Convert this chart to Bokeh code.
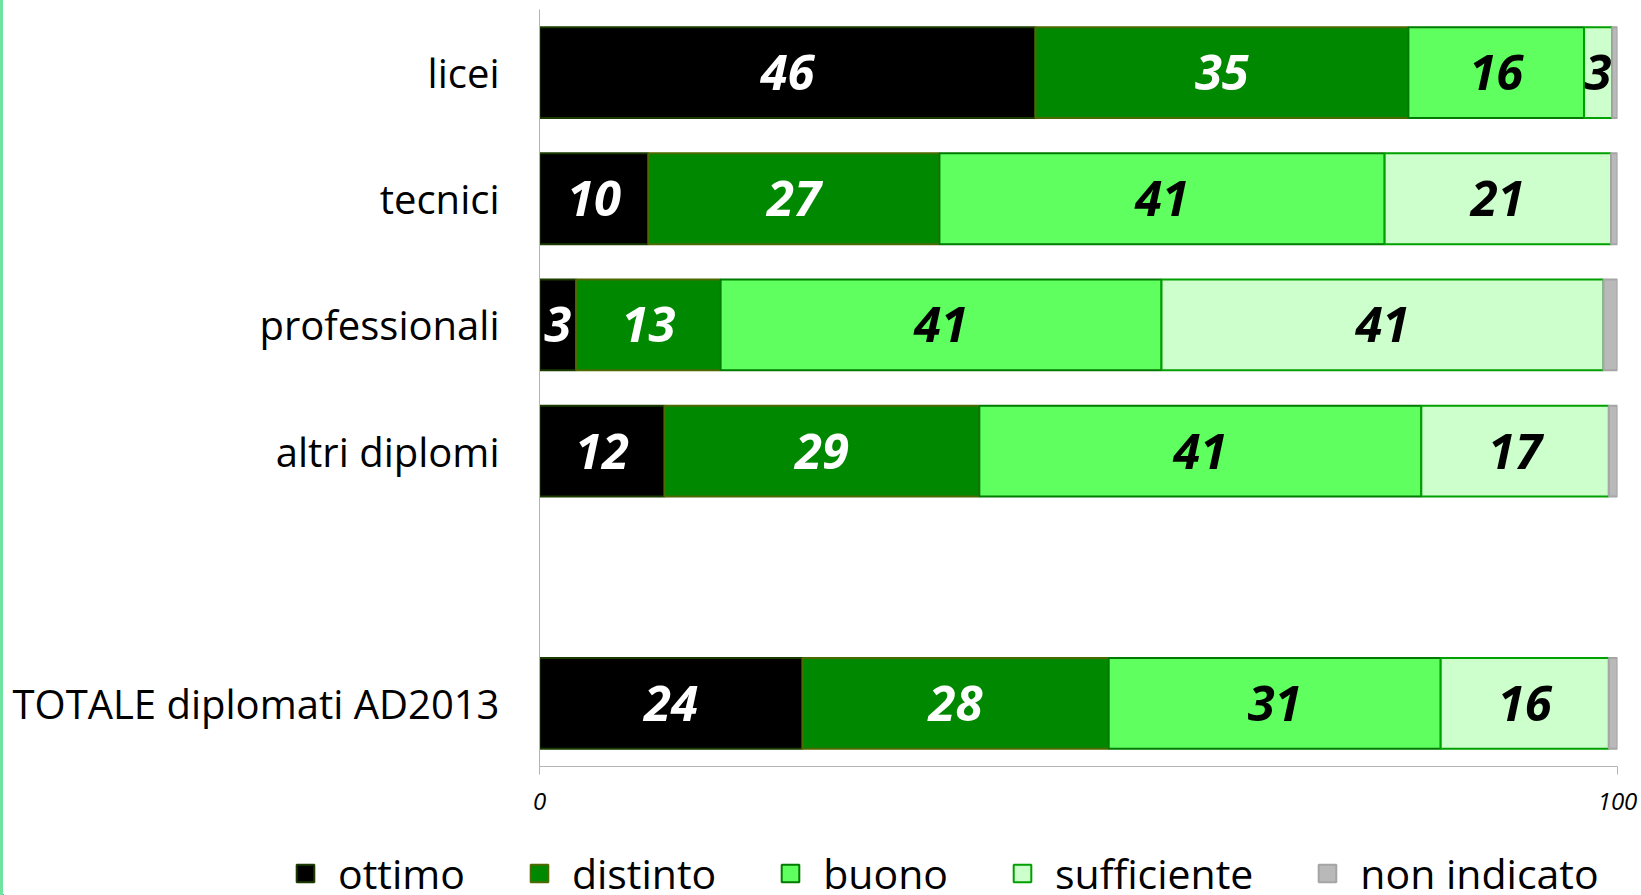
from bokeh.plotting import figure
from bokeh.layouts import column
from bokeh.models import Range1d, FactorRange, FixedTicker, Legend, LegendItem, ColumnDataSource
from bokeh.core.properties import value
from bokeh.embed import file_html
from bokeh.resources import INLINE

# ---- data ----
categories = ["licei", "tecnici", "professionali", "altri diplomi", " ", "TOTALE diplomati AD2013"]
groups = ["licei", "tecnici", "professionali", "altri diplomi", "TOTALE diplomati AD2013"]
series = ["ottimo", "distinto", "buono", "sufficiente", "non indicato"]
ottimo = [46.0, 10.1, 3.4, 11.6, 24.4]
distinto = [34.6, 27.0, 13.4, 29.2, 28.4]
buono = [16.3, 41.3, 40.9, 41.0, 30.8]
sufficiente = [2.6, 21.0, 41.0, 17.4, 15.6]
non_indicato = [0.5, 0.6, 1.3, 0.8, 0.8]
x_ticks = [0, 100]

values = [ottimo, distinto, buono, sufficiente, non_indicato]
fills = ["#000000", "#008800", "#5eff5e", "#ccffcc", "#b9b9b9"]
lines = ["#1a3a00", "#4d6a00", "#007a00", "#00a000", "#a5a5a5"]
label_colors = ["#ffffff", "#ffffff", "#000000", "#000000", None]

FONT = "Open Sans"
W = 1638
H_MAIN = 830
H_LEG = 65

p = figure(width=W, height=H_MAIN, output_backend="svg", toolbar_location=None,
           x_range=Range1d(0, 100), y_range=FactorRange(factors=list(reversed(categories)), range_padding=0),
           min_border_left=536, min_border_right=24, min_border_top=9, min_border_bottom=64)
p.frame_align = False
p.outline_line_color = None
p.xgrid.grid_line_color = None
p.ygrid.grid_line_color = None
p.background_fill_color = "white"
p.border_fill_color = "white"

left = [0.0] * len(groups)
for name, vals, fc, lc, tc in zip(series, values, fills, lines, label_colors):
    right = [l + v for l, v in zip(left, vals)]
    mid = [(l + r) / 2 for l, r in zip(left, right)]
    src = ColumnDataSource(dict(y=groups, left=left, right=right, mid=mid,
                                lab=[str(round(v)) for v in vals]))
    p.hbar(y="y", left="left", right="right", height=0.72, source=src,
           fill_color=fc, line_color=lc, line_width=2)
    if tc is not None:
        p.text(x="mid", y="y", text="lab", source=src, text_color=tc,
               text_font=value(FONT), text_font_size="49px", text_font_style="bold italic",
               text_align="center", text_baseline="middle")
    left = right

# axes
p.xaxis.ticker = FixedTicker(ticks=x_ticks)
p.xaxis.axis_line_color = "#b3b3b3"
p.xaxis.major_tick_line_color = "#b3b3b3"
p.xaxis.major_tick_out = 8
p.xaxis.major_tick_in = 0
p.xaxis.minor_tick_line_color = None
p.xaxis.major_label_text_font = FONT
p.xaxis.major_label_text_font_style = "italic"
p.xaxis.major_label_text_font_size = "24px"
p.xaxis.major_label_text_color = "black"
p.xaxis.major_label_standoff = 18

p.yaxis.axis_line_color = "#b3b3b3"
p.yaxis.major_tick_line_color = None
p.yaxis.major_tick_out = 0
p.yaxis.major_tick_in = 0
p.yaxis.major_label_text_font = FONT
p.yaxis.major_label_text_font_size = "40px"
p.yaxis.major_label_text_color = "black"
p.yaxis.major_label_standoff = 40

# ---- legend strip ----
pl = figure(width=W, height=H_LEG, output_backend="svg", toolbar_location=None,
            x_range=Range1d(0, 1), y_range=Range1d(0, 1),
            x_axis_location=None, y_axis_location=None,
            min_border_left=0, min_border_right=0, min_border_top=0, min_border_bottom=0)
pl.frame_align = False
pl.outline_line_color = None
pl.xgrid.grid_line_color = None
pl.ygrid.grid_line_color = None
offscreen = ColumnDataSource(dict(y=[-10], left=[-10], right=[-9]))
items = []
for name, fc, lc in zip(series, fills, lines):
    r = pl.hbar(y="y", left="left", right="right", height=1, source=offscreen,
                fill_color=fc, line_color=lc, line_width=2)
    items.append(LegendItem(label=name, renderers=[r]))
legend = Legend(items=items, orientation="horizontal", location=(291, -6),
                glyph_width=22, glyph_height=22, label_standoff=22, spacing=63,
                padding=0, margin=0, border_line_color=None, background_fill_alpha=0,
                label_text_font=FONT, label_text_font_size="41px", label_text_color="black")
pl.add_layout(legend, "center")

layout = column(p, pl, spacing=0, styles={"border-left": "3px solid #6fe3a0"})
open("out.html", "w").write(file_html(layout, INLINE))
